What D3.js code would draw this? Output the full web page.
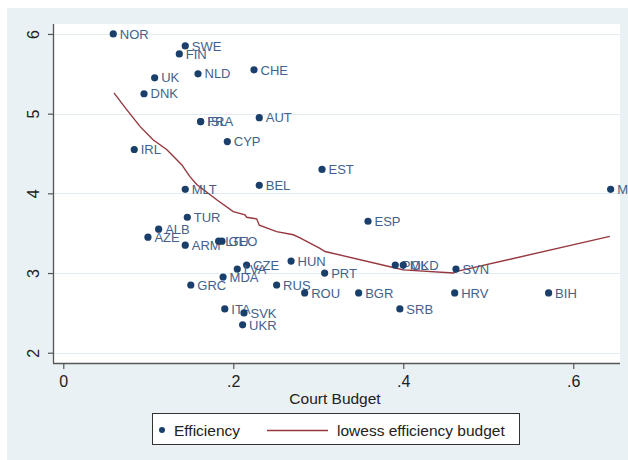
<!DOCTYPE html>
<html>
<head>
<meta charset="utf-8">
<script src="https://cdn.jsdelivr.net/npm/d3@7"></script>
<style>
  html, body { margin: 0; padding: 0; background: #ffffff; }
  svg text { font-family: "Liberation Sans", Arial, sans-serif; }
</style>
</head>
<body>
<svg id="chart" width="628" height="460"></svg>
<script>
// Country codes, court budget (x) and efficiency score (y)
const countries = ["NOR","SWE","FIN","UK","NLD","CHE","DNK","FRA","ISL","AUT","CYP","IRL",
  "MLT","BEL","EST","MNE","TUR","ALB","AZE","ARM","LTU","GEO","HUN","CZE","LVA","MDA",
  "GRC","RUS","ITA","SVK","UKR","ESP","PRT","ROU","BGR","POL","MKD","SVN","HRV","BIH","SRB"];
const budget = [0.0588,0.1435,0.1365,0.1075,0.1585,0.2244,0.0950,0.1616,0.1616,0.2306,0.1930,0.0835,
  0.1435,0.2306,0.3044,0.6440,0.1459,0.1122,0.0996,0.1435,0.1828,0.1867,0.2680,0.2157,0.2047,0.1880,
  0.1500,0.2510,0.1900,0.2126,0.2110,0.3585,0.3075,0.2840,0.3475,0.3906,0.4000,0.4620,0.4605,0.5710,0.3960];
const efficiency = [6.00,5.85,5.75,5.45,5.50,5.55,5.25,4.90,4.90,4.95,4.65,4.55,
  4.05,4.10,4.30,4.05,3.70,3.55,3.45,3.35,3.40,3.40,3.15,3.10,3.05,2.95,
  2.85,2.85,2.55,2.50,2.35,3.65,3.00,2.75,2.75,3.10,3.10,3.05,2.75,2.75,2.55];

// Lowess fit of efficiency on budget
const lowessX = [0.0596,0.0746,0.0902,0.1059,0.1216,0.1393,0.1490,0.1570,0.1805,0.2000,0.2138,
  0.2157,0.2275,0.2306,0.2510,0.2706,0.2785,0.3020,0.3080,0.3920,0.4000,0.4590,0.4630,0.6430];
const lowessY = [5.26,5.05,4.84,4.67,4.55,4.36,4.21,4.11,3.92,3.77,3.73,
  3.70,3.68,3.60,3.52,3.48,3.44,3.31,3.27,3.06,3.04,3.00,3.02,3.46];

const xTicks = [0, 0.2, 0.4, 0.6];
const yTicks = [2, 3, 4, 5, 6];
const xTickLabels = ["0", ".2", ".4", ".6"];
const yTickLabels = ["2", "3", "4", "5", "6"];

const svg = d3.select("#chart");
const W = 628, H = 460;
const plot = { left: 53, right: 620, top: 24, bottom: 363 };

const navy = "#1b3f6b";
const labelColor = "#42628c";
const maroon = "#96383e";
const bg = "#e9f1f4";

// outer background
svg.append("rect").attr("x", 7).attr("y", 8).attr("width", W - 7).attr("height", H - 8).attr("fill", bg);
// plot region
svg.append("rect").attr("x", plot.left).attr("y", plot.top)
  .attr("width", plot.right - plot.left).attr("height", plot.bottom - plot.top).attr("fill", "#ffffff");

const x = d3.scaleLinear().domain([-0.0121, 0.655]).range([plot.left, plot.right]);
const y = d3.scaleLinear().domain([1.871, 6.125]).range([plot.bottom, plot.top]);

// horizontal grid lines
svg.append("g").selectAll("line").data(yTicks).join("line")
  .attr("x1", plot.left).attr("x2", plot.right)
  .attr("y1", d => Math.round(y(d)) + 0.5).attr("y2", d => Math.round(y(d)) + 0.5)
  .attr("stroke", "#e2ecf0").attr("stroke-width", 1.2);

// y axis
const yAxis = svg.append("g").attr("transform", `translate(${plot.left},0)`)
  .call(d3.axisLeft(y).tickValues(yTicks).tickFormat((d, i) => yTickLabels[i]).tickSize(5).tickPadding(6));
yAxis.select(".domain").attr("d", `M0.5,${plot.top}V${plot.bottom}`).attr("stroke", "#555").attr("stroke-width", 1.3);
yAxis.selectAll(".tick line").attr("stroke", "#555").attr("stroke-width", 1.2);
yAxis.selectAll(".tick text")
  .attr("font-size", 16).attr("fill", "#222").attr("font-family", "Liberation Sans, Arial, sans-serif")
  .attr("text-anchor", "middle").attr("dy", null).attr("x", null)
  .attr("transform", "translate(-20,0) rotate(-90)").attr("dominant-baseline", "central");

// x axis
const xAxis = svg.append("g").attr("transform", `translate(0,${plot.bottom})`)
  .call(d3.axisBottom(x).tickValues(xTicks).tickFormat((d, i) => xTickLabels[i]).tickSize(6).tickPadding(7));
xAxis.select(".domain").attr("d", `M${plot.left},0.5H${plot.right}`).attr("stroke", "#555").attr("stroke-width", 1.3);
xAxis.selectAll(".tick line").attr("stroke", "#555").attr("stroke-width", 1.2);
xAxis.selectAll(".tick text").attr("font-size", 16).attr("fill", "#222")
  .attr("font-family", "Liberation Sans, Arial, sans-serif");

svg.append("text").attr("x", 335).attr("y", 404).attr("text-anchor", "middle")
  .attr("font-size", 15.5).attr("fill", "#222").text("Court Budget");

// lowess curve
const line = d3.line().x((d, i) => x(lowessX[i])).y((d, i) => y(lowessY[i]));
svg.append("path").datum(lowessX).attr("d", line)
  .attr("fill", "none").attr("stroke", maroon).attr("stroke-width", 1.4);

// scatter points and labels
const pts = svg.append("g").selectAll("g").data(countries).join("g");
pts.append("circle")
  .attr("cx", (d, i) => x(budget[i])).attr("cy", (d, i) => y(efficiency[i]))
  .attr("r", 3.6).attr("fill", navy);
pts.append("text")
  .attr("x", (d, i) => x(budget[i]) + 6.5).attr("y", (d, i) => y(efficiency[i]))
  .attr("dy", "0.36em").attr("font-size", 13).attr("fill", labelColor)
  .text(d => d);

// legend
const lg = svg.append("g");
lg.append("rect").attr("x", 152.5).attr("y", 413.5).attr("width", 367).attr("height", 31)
  .attr("fill", "#ffffff").attr("stroke", "#333").attr("stroke-width", 1);
lg.append("circle").attr("cx", 162).attr("cy", 430).attr("r", 3).attr("fill", navy);
lg.append("text").attr("x", 174).attr("y", 435.5).attr("font-size", 15.5).attr("fill", "#222").text("Efficiency");
lg.append("line").attr("x1", 267).attr("x2", 328).attr("y1", 430.5).attr("y2", 430.5)
  .attr("stroke", maroon).attr("stroke-width", 1.4);
lg.append("text").attr("x", 337).attr("y", 435.5).attr("font-size", 15.5).attr("fill", "#222")
  .text("lowess efficiency budget");
</script>
</body>
</html>
